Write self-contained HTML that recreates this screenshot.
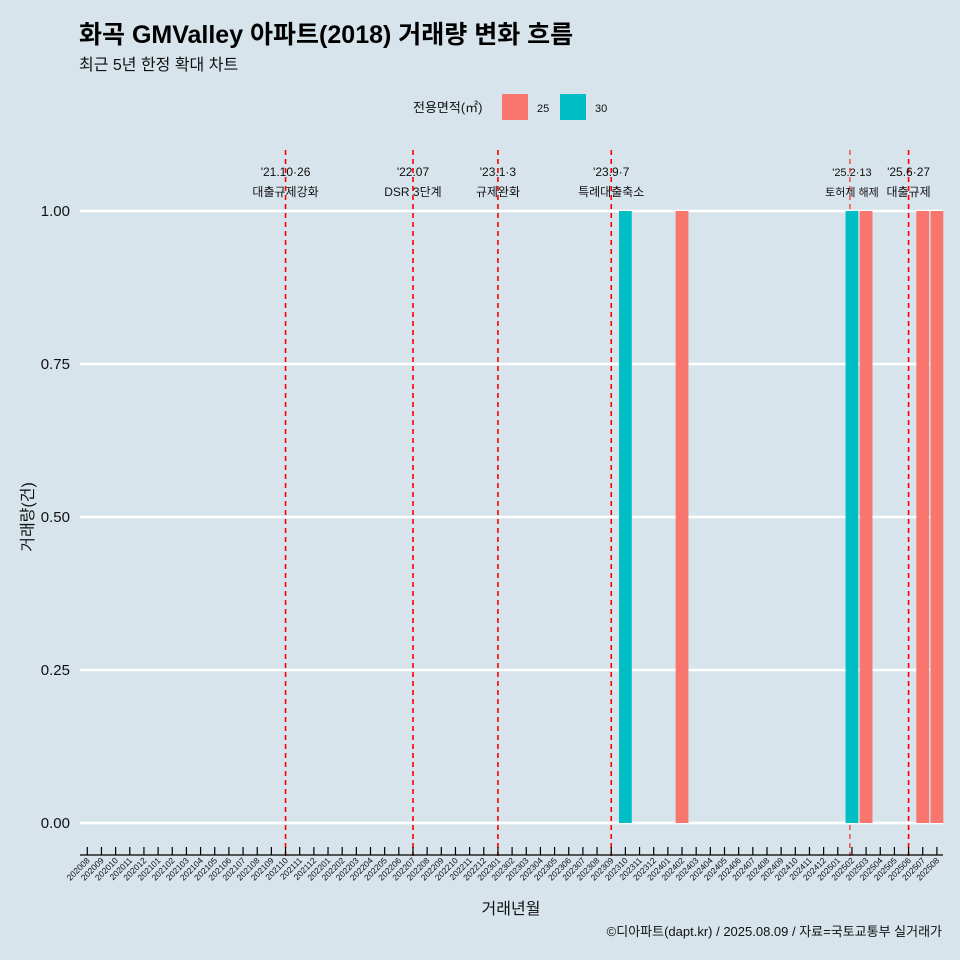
<!DOCTYPE html>
<html><head><meta charset="utf-8"><style>
body{margin:0;background:#d7e4eb;}
svg{display:block;font-family:"Liberation Sans","Noto Sans CJK KR",sans-serif;}
</style></head><body>
<svg id="c" width="960" height="960">
<rect width="960" height="960" fill="#d7e4eb"/>
<text x="79" y="43" font-size="25" font-weight="bold" fill="#000">화곡 GMValley 아파트(2018) 거래량 변화 흐름</text>
<text x="79" y="70" font-size="16" fill="#111">최근 5년 한정 확대 차트</text>
<g>
<text x="413" y="112" font-size="13" fill="#111">전용면적(㎡)</text>
<rect x="502" y="94" width="26" height="26" fill="#f8766d"/>
<text x="537" y="112" font-size="11" fill="#111">25</text>
<rect x="560" y="94" width="26" height="26" fill="#00bfc4"/>
<text x="595" y="112" font-size="11" fill="#111">30</text>
</g>
<g id="grid"></g><g id="events"></g><g id="bars"></g><g id="xaxis"></g><g id="yaxis"></g>
<text x="0" y="0" transform="translate(33,517) rotate(-90)" text-anchor="middle" font-size="16" fill="#111">거래량(건)</text>
<text x="511" y="914" text-anchor="middle" font-size="16" fill="#111">거래년월</text>
<text x="942" y="936" text-anchor="end" font-size="13" fill="#111">©디아파트(dapt.kr) / 2025.08.09 / 자료=국토교통부 실거래가</text>
</svg>
<script>
const months=[];for(let y=2020,m=8;y*100+m<=202508;){months.push(String(y*100+m));m++;if(m>12){m=1;y++;}}
const barMonths=["202310","202402","202502","202503","202507","202508"];
const barSizes=["30","25","30","25","25","25"];
const barValues=[1,1,1,1,1,1];
const yTicks=[0,0.25,0.5,0.75,1];
const yTickLabels=["0.00","0.25","0.50","0.75","1.00"];
const eventMonths=["202110","202207","202301","202309","202502","202506"];
const eventDates=["'21.10·26","'22.07","'23.1·3","'23.9·7","'25.2·13","'25.6·27"];
const eventNames=["대출규제강화","DSR 3단계","규제완화","특례대출축소","토허제 해제","대출규제"];
const colors={"25":"#f8766d","30":"#00bfc4"};
const NS="http://www.w3.org/2000/svg";
const x=m=>87.3+14.16*months.indexOf(m);
const y=v=>823-612*v;
function mk(p,t,a){const e=document.createElementNS(NS,t);for(const k in a)e.setAttribute(k,a[k]);document.getElementById(p).appendChild(e);return e;}
yTicks.forEach((v,i)=>{
 const l=mk("grid","line",{x1:80,x2:943,y1:y(v),y2:y(v),stroke:"#fff","stroke-width":2.5});
 
 
 const t=mk("yaxis","text",{x:70,y:y(v)+5,"text-anchor":"end","font-size":15,fill:"#111"});t.textContent=yTickLabels[i];
 
 
});
eventMonths.forEach((m,i)=>{
 const thin=m==="202502";
 const l=mk("events","line",{x1:x(m)-(thin?2:0),x2:x(m)-(thin?2:0),y1:150,y2:856,stroke:"#ff0000","stroke-width":thin?1:1.6,"stroke-dasharray":"5,4"});
 
 
 const fs=thin?11:12;
 const a=mk("events","text",{x:x(m),y:176,"text-anchor":"middle","font-size":fs,fill:"#111"});a.textContent=eventDates[i];
 
 
 const b=mk("events","text",{x:x(m),y:196,"text-anchor":"middle","font-size":fs,fill:"#111"});b.textContent=eventNames[i];
 
 
});
barMonths.forEach((m,i)=>{
 const r=mk("bars","rect",{x:x(m)-6.4,y:y(barValues[i]),width:12.8,height:y(0)-y(barValues[i]),fill:colors[barSizes[i]]});
 
 
});
const ax=mk("xaxis","line",{x1:80,x2:943,y1:855,y2:855,stroke:"#000","stroke-width":1.2});


months.forEach(m=>{
 const t=mk("xaxis","line",{x1:x(m),x2:x(m),y1:847,y2:855,stroke:"#000","stroke-width":1.2});
 
 
 const l=mk("xaxis","text",{x:0,y:0,transform:`translate(${x(m)+3},${861}) rotate(-45)`,"text-anchor":"end","font-size":8.5,fill:"#111"});l.textContent=m;
 
 
});
</script>
</body></html>
